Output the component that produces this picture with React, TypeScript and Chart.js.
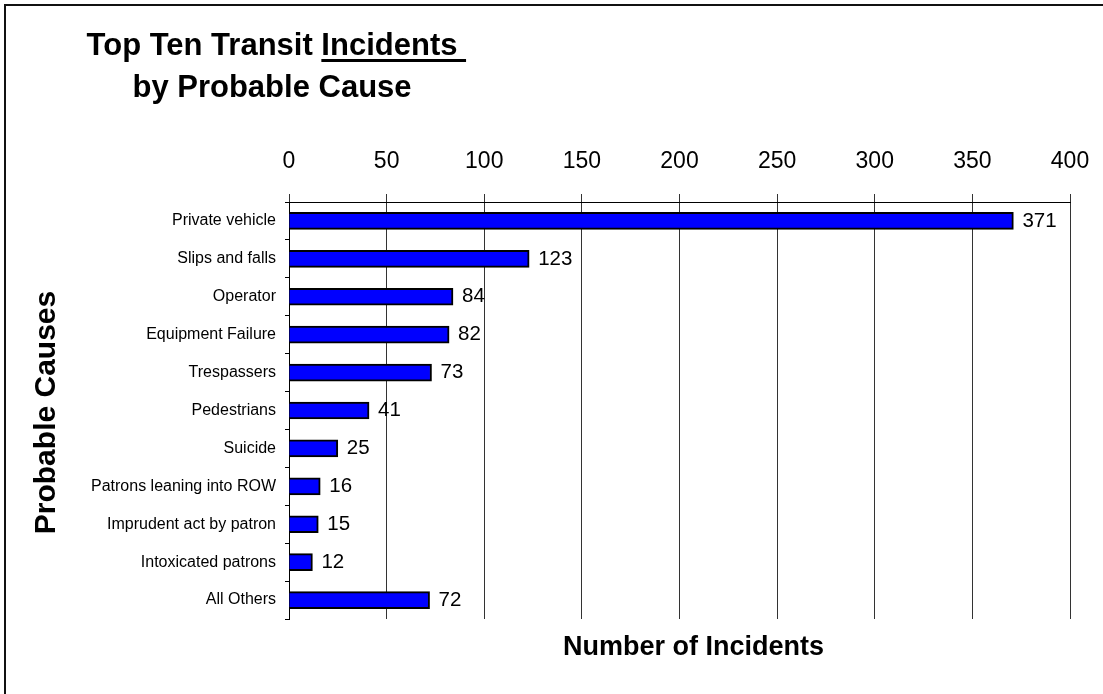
import React, { useEffect, useRef } from "react";
import { Chart, registerables } from "chart.js";

Chart.register(...registerables);

const categories: string[] = [
  "Private vehicle",
  "Slips and falls",
  "Operator",
  "Equipment Failure",
  "Trespassers",
  "Pedestrians",
  "Suicide",
  "Patrons leaning into ROW",
  "Imprudent act by patron",
  "Intoxicated patrons",
  "All Others",
];
const incidents: number[] = [371, 123, 84, 82, 73, 41, 25, 16, 15, 12, 72];
const titleLine1Plain = "Top Ten Transit ";
const titleLine1Underlined = "Incidents";
const titleLine2 = "by Probable Cause";
const xAxisTitle = "Number of Incidents";
const yAxisTitle = "Probable Causes";

const FONT = "'Liberation Sans', Arial, Helvetica, sans-serif";

const decorPlugin = {
  id: "decor",
  afterDatasetsDraw(chart: any) {
    const ctx = chart.ctx;
    const meta = chart.getDatasetMeta(0);
    ctx.save();
    ctx.fillStyle = "#000";
    ctx.font = `20.5px ${FONT}`;
    ctx.textAlign = "left";
    ctx.textBaseline = "middle";
    meta.data.forEach((bar: any, i: number) => {
      ctx.fillText(String(incidents[i]), bar.x + 9, bar.y);
    });
    ctx.restore();
  },
  afterDraw(chart: any) {
    const ctx = chart.ctx;
    const area = chart.chartArea;
    ctx.save();
    // frame lines (top & left)
    ctx.fillStyle = "#111";
    ctx.fillRect(4, 4, 2, chart.height - 4);
    ctx.fillRect(4, 4, chart.width - 4, 2);

    // title
    ctx.fillStyle = "#000";
    ctx.font = `bold 31px ${FONT}`;
    ctx.textBaseline = "alphabetic";
    ctx.textAlign = "left";
    const cx = 272;
    const full = titleLine1Plain + titleLine1Underlined;
    const w = ctx.measureText(full).width;
    const left = cx - w / 2;
    ctx.fillText(full, left, 55);
    const uStart = left + ctx.measureText(titleLine1Plain).width;
    const uEnd = uStart + ctx.measureText(titleLine1Underlined + " ").width;
    ctx.fillRect(uStart, 59, uEnd - uStart, 3);
    ctx.textAlign = "center";
    ctx.fillText(titleLine2, cx, 97);

    // x axis title (bottom)
    ctx.font = `bold 27px ${FONT}`;
    ctx.textBaseline = "middle";
    ctx.textAlign = "center";
    ctx.fillText(xAxisTitle, (area.left + area.right) / 2 + 14, 648);

    // y axis title
    ctx.font = `bold 30px ${FONT}`;
    ctx.translate(47, (area.top + area.bottom) / 2 + 2);
    ctx.rotate(-Math.PI / 2);
    ctx.fillText(yAxisTitle, 0, 0);
    ctx.restore();
  },
};

export default function App() {
  const ref = useRef<HTMLCanvasElement | null>(null);
  useEffect(() => {
    if (!ref.current) return;
    const chart = new Chart(ref.current, {
      type: "bar",
      data: {
        labels: categories,
        datasets: [
          {
            data: incidents,
            backgroundColor: "#0000FF",
            borderColor: "#000000",
            borderWidth: 2,
            barThickness: 17,
          },
        ],
      },
      options: {
        indexAxis: "y",
        animation: false,
        responsive: false,
        maintainAspectRatio: false,
        layout: { padding: { left: 80, right: 33, top: 100, bottom: 75 } },
        plugins: {
          legend: { display: false },
          title: { display: false },
          tooltip: { enabled: false },
        },
        scales: {
          x: {
            position: "top",
            min: 0,
            max: 400,
            ticks: {
              stepSize: 50,
              color: "#000",
              padding: 19,
              font: { family: FONT, size: 23 },
              maxRotation: 0,
            },
            grid: {
              color: "#333",
              lineWidth: 1,
              tickLength: 8,
              drawTicks: true,
            },
            border: { display: true, color: "#000", width: 1 },
            afterFit(scale: any) {
              scale.height = 102;
              scale.paddingLeft = 0;
              scale.paddingRight = 0;
            },
          },
          y: {
            ticks: {
              color: "#000",
              padding: 9,
              font: { family: FONT, size: 16 },
              autoSkip: false,
            },
            grid: {
              display: true,
              drawOnChartArea: false,
              drawTicks: true,
              tickLength: 4,
              offset: true,
              color: "#000",
            },
            border: { display: true, color: "#000", width: 1 },
            afterFit(scale: any) {
              scale.width = 209;
              scale.paddingTop = 0;
              scale.paddingBottom = 0;
            },
          },
        },
      },
      plugins: [decorPlugin],
    });
    return () => chart.destroy();
  }, []);
  return (
    <div style={{ position: "fixed", left: 0, top: 0, width: 1103, height: 694, background: "#fff" }}>
      <canvas ref={ref} width={1103} height={694} style={{ display: "block" }} />
    </div>
  );
}
